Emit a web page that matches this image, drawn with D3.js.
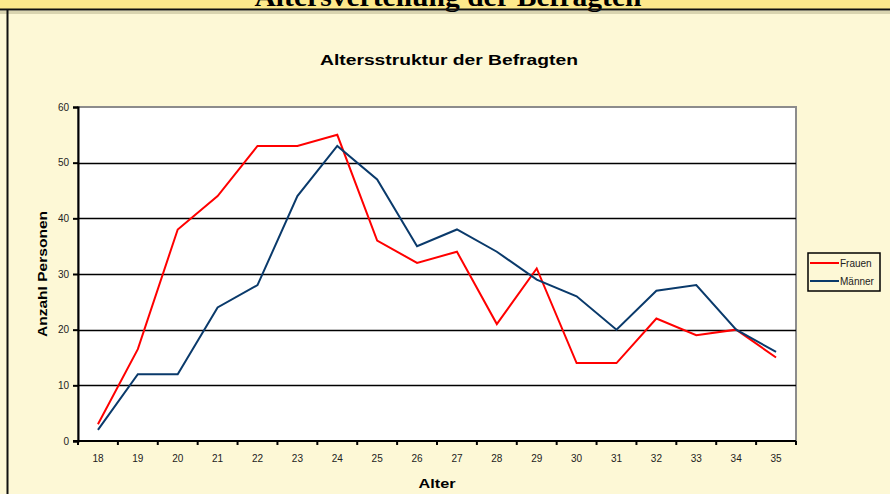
<!DOCTYPE html>
<html>
<head>
<meta charset="utf-8">
<script src="https://cdn.jsdelivr.net/npm/d3@7"></script>
<style>
  html, body { margin: 0; padding: 0; background: #fdf8d6; }
  svg { display: block; }
</style>
</head>
<body>
<div id="chart"></div>
<script>
// Altersstruktur data
const ages = ['18','19','20','21','22','23','24','25','26','27','28','29','30','31','32','33','34','35'];
const frauen = [3, 16.5, 38, 44, 53, 53, 55, 36, 32, 34, 21, 31, 14, 14, 22, 19, 20, 15];
const maenner = [2, 12, 12, 24, 28, 44, 53, 47, 35, 38, 34, 29, 26, 20, 27, 28, 20, 16];
const yTicks = [0, 10, 20, 30, 40, 50, 60];

const width = 890, height = 494;
const plot = { left: 78, right: 796, top: 107, bottom: 441 };

const svg = d3.select('#chart').append('svg')
    .attr('width', width)
    .attr('height', height);

// slide background + header band
svg.append('rect').attr('x', 0).attr('y', 0).attr('width', width).attr('height', height).attr('fill', '#fdf8d6');
svg.append('rect').attr('x', 0).attr('y', 0).attr('width', width).attr('height', 9).attr('fill', '#fde98c');
svg.append('rect').attr('x', 0).attr('y', 11).attr('width', width).attr('height', 3).attr('fill', '#c9c4a0').attr('opacity', 0.7);
svg.append('text')
    .attr('x', 448).attr('y', 6)
    .attr('text-anchor', 'middle')
    .attr('textLength', 387).attr('lengthAdjust', 'spacingAndGlyphs')
    .style('font-family', '"Liberation Serif", "Times New Roman", serif')
    .style('font-weight', 'bold')
    .style('font-size', '28px')
    .text('Altersverteilung der Befragten');
svg.append('line').attr('x1', 0).attr('x2', width).attr('y1', 9.5).attr('y2', 9.5).attr('stroke', '#111').attr('stroke-width', 2);
svg.append('line').attr('x1', 7.5).attr('x2', 7.5).attr('y1', 9).attr('y2', height).attr('stroke', '#111').attr('stroke-width', 2);

// scales
const x = d3.scaleBand().domain(ages).range([plot.left, plot.right]);
const y = d3.scaleLinear().domain([0, 60]).range([plot.bottom, plot.top]);

// plot area
svg.append('rect')
    .attr('x', plot.left).attr('y', plot.top)
    .attr('width', plot.right - plot.left).attr('height', plot.bottom - plot.top)
    .attr('fill', '#fff').attr('stroke', '#8c8c8c').attr('stroke-width', 2);

// gridlines
svg.append('g').selectAll('line')
    .data(yTicks.filter(d => d > 0 && d < 60))
    .join('line')
    .attr('x1', plot.left).attr('x2', plot.right)
    .attr('y1', d => Math.round(y(d)) + 0.5).attr('y2', d => Math.round(y(d)) + 0.5)
    .attr('stroke', '#000').attr('stroke-width', 1.3);

const font = 'Arial, "Liberation Sans", Helvetica, sans-serif';

// y axis
const yAxis = svg.append('g')
    .attr('transform', `translate(${plot.left},0)`)
    .call(d3.axisLeft(y).tickValues(yTicks).tickSize(5).tickPadding(4));
yAxis.select('.domain').attr('stroke', '#000').attr('stroke-width', 2);
yAxis.selectAll('.tick line').attr('stroke', '#000').attr('stroke-width', 2);
yAxis.selectAll('text').style('font-family', font).style('font-size', '10px').attr('fill', '#222');

// x axis: ticks between categories
const xAxis = svg.append('g')
    .attr('transform', `translate(0,${plot.bottom})`)
    .call(d3.axisBottom(x).tickSize(0).tickPadding(14));
xAxis.select('.domain').remove();
xAxis.selectAll('text').style('font-family', font).style('font-size', '10px').attr('fill', '#222');
svg.append('line')
    .attr('x1', plot.left - 5).attr('x2', plot.right)
    .attr('y1', plot.bottom).attr('y2', plot.bottom)
    .attr('stroke', '#000').attr('stroke-width', 2);
svg.append('g').selectAll('line')
    .data(ages)
    .join('line')
    .attr('x1', d => x(d) + x.bandwidth()).attr('x2', d => x(d) + x.bandwidth())
    .attr('y1', plot.bottom).attr('y2', plot.bottom + 4)
    .attr('stroke', '#000').attr('stroke-width', 2);
svg.append('line')
    .attr('x1', plot.left).attr('x2', plot.left)
    .attr('y1', plot.bottom).attr('y2', plot.bottom + 4)
    .attr('stroke', '#000').attr('stroke-width', 2);

// lines
const line = d3.line()
    .x((d, i) => x(ages[i]) + x.bandwidth() / 2)
    .y(d => y(d));

svg.append('path').datum(frauen)
    .attr('d', line).attr('fill', 'none')
    .attr('stroke', '#ff0000').attr('stroke-width', 2);
svg.append('path').datum(maenner)
    .attr('d', line).attr('fill', 'none')
    .attr('stroke', '#0a3a6b').attr('stroke-width', 2);

// titles
svg.append('text')
    .attr('x', 449).attr('y', 65)
    .attr('text-anchor', 'middle')
    .attr('textLength', 258).attr('lengthAdjust', 'spacingAndGlyphs')
    .style('font-family', font).style('font-weight', 'bold').style('font-size', '15px')
    .text('Altersstruktur der Befragten');
svg.append('text')
    .attr('x', 437).attr('y', 488)
    .attr('text-anchor', 'middle')
    .attr('textLength', 37).attr('lengthAdjust', 'spacingAndGlyphs')
    .style('font-family', font).style('font-weight', 'bold').style('font-size', '13px')
    .text('Alter');
svg.append('text')
    .attr('transform', 'translate(47,274) rotate(-90)')
    .attr('text-anchor', 'middle')
    .attr('textLength', 126).attr('lengthAdjust', 'spacingAndGlyphs')
    .style('font-family', font).style('font-weight', 'bold').style('font-size', '13px')
    .text('Anzahl Personen');

// legend
const legend = svg.append('g').attr('transform', 'translate(808,253)');
legend.append('rect')
    .attr('x', 0).attr('y', 0).attr('width', 72).attr('height', 38)
    .attr('fill', '#fdf8d6').attr('stroke', '#000').attr('stroke-width', 1.5);
const series = [
    { name: 'Frauen', color: '#ff0000' },
    { name: 'Männer', color: '#0a3a6b' },
];
series.forEach((s, i) => {
    const ly = 10 + i * 18;
    legend.append('line')
        .attr('x1', 2).attr('x2', 31).attr('y1', ly).attr('y2', ly)
        .attr('stroke', s.color).attr('stroke-width', 2);
    legend.append('text')
        .attr('x', 32).attr('y', ly + 3.5)
        .style('font-family', font).style('font-size', '10px').attr('fill', '#222')
        .text(s.name);
});
</script>
</body>
</html>
